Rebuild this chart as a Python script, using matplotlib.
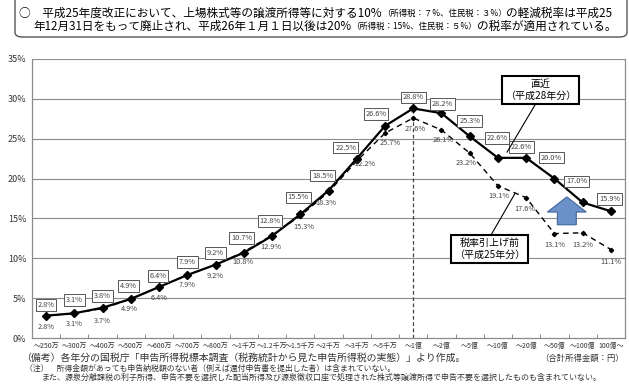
import numpy as np
import matplotlib
matplotlib.use("Agg")
import matplotlib.pyplot as plt
from matplotlib.patches import FancyBboxPatch, FancyArrow

plt.rcParams['font.family'] = ['Noto Sans CJK JP', 'DejaVu Sans']

# データ（合計所得金額階級別の所得税負担率）
categories = ["～250万", "～300万", "～400万", "～500万", "～600万", "～700万", "～800万",
              "～1千万", "～1.2千万", "～1.5千万", "～2千万", "～3千万", "～5千万", "～1億",
              "～2億", "～5億", "～10億", "～20億", "～50億", "～100億", "100億～"]
rate_h28 = [2.8, 3.1, 3.8, 4.9, 6.4, 7.9, 9.2, 10.7, 12.8, 15.5, 18.5, 22.5, 26.6, 28.8,
            28.2, 25.3, 22.6, 22.6, 20.0, 17.0, 15.9]
rate_h25 = [2.8, 3.1, 3.7, 4.9, 6.4, 7.9, 9.2, 10.8, 12.9, 15.3, 18.3, 22.2, 25.7, 27.6,
            26.1, 23.2, 19.1, 17.6, 13.1, 13.2, 11.1]
yticks = [0, 5, 10, 15, 20, 25, 30, 35]

# ラベル位置の微調整（ピクセル）
off_h28 = [(0, 11), (0, 13), (0, 12), (-2, 13), (-1, 11), (0, 13), (0, 12), (-2, 15),
           (-2, 15), (-2, 17), (-6, 15), (-11, 11), (-9, 12), (0, 11), (1, 9), (0, 15),
           (-1, 20), (-5, 11), (-3, 21), (-6, 21), (-1, 12)]
off_h25 = [(0, -11), (0, -11), (0, -12), (-1, -10), (0, -11), (0, -10), (0, -11), (-1, -10),
           (-1, -12), (4, -11), (-3, -11), (8, -3), (5, -10), (2, -11), (2, -10), (-4, -10),
           (1, -10), (-1, -11), (0, -11), (0, -12), (0, -12)]

W, H = 629, 389
fig = plt.figure(figsize=(W / 100, H / 100), dpi=100)
ax = fig.add_axes([32 / W, 1 - 338 / H, (625 - 32) / W, (338 - 59) / H])

x = np.arange(len(categories))
ax.set_xlim(-0.5, len(categories) - 0.5)
ax.set_ylim(0, 35)

for y in yticks[1:]:
    ax.axhline(y, color='#8c8c8c', lw=0.8, zorder=0)
ax.vlines(13, 0, rate_h28[13], colors='#444444', linestyles=(0, (3, 2)), lw=0.9, zorder=1)

ax.plot(x, rate_h25, color='black', lw=1.0, ls=(0, (4, 3)), marker='D', ms=2.2, zorder=3)
ax.plot(x, rate_h28, color='black', lw=1.6, marker='D', ms=3.6, zorder=4)

for i in range(len(x)):
    ax.annotate(f"{rate_h28[i]:.1f}%", (x[i], rate_h28[i]), xytext=off_h28[i],
                textcoords='offset pixels', ha='center', va='center', fontsize=5.3,
                color='#444444', zorder=6,
                bbox=dict(boxstyle='square,pad=0.25', fc='white', ec='#555555', lw=0.7))
    ax.annotate(f"{rate_h25[i]:.1f}%", (x[i], rate_h25[i]), xytext=off_h25[i],
                textcoords='offset pixels', ha='center', va='center', fontsize=5.3,
                color='#444444', zorder=5)

# 吹き出し
ax.annotate("直近\n（平成28年分）", xy=(16.32, 23.3), xytext=(17.52, 31.1),
            ha='center', va='center', fontsize=7.2, linespacing=1.25, zorder=7,
            bbox=dict(boxstyle='square,pad=0.3', fc='white', ec='black', lw=1.5),
            arrowprops=dict(arrowstyle='-', lw=0.8, color='black', shrinkA=0, shrinkB=0,
                            relpos=(0.45, 0)))
ax.annotate("税率引上げ前\n（平成25年分）", xy=(16.6, 18.1), xytext=(15.7, 11.2),
            ha='center', va='center', fontsize=7.2, linespacing=1.25, zorder=7,
            bbox=dict(boxstyle='square,pad=0.3', fc='white', ec='black', lw=1.5),
            arrowprops=dict(arrowstyle='-', lw=0.8, color='black', shrinkA=0, shrinkB=0,
                            relpos=(0.5, 1)))

ax.add_patch(FancyArrow(18.44, 14.2, 0, 3.5, width=0.67, head_width=1.38, head_length=1.9,
                        length_includes_head=True, fc='#6a92c8', ec='#44679c', lw=0.8, zorder=6))

ax.set_yticks(yticks)
ax.set_yticklabels([f"{v}%" for v in yticks], fontsize=6.5, color='#333333')
ax.set_xticks(x)
ax.set_xticklabels(categories, fontsize=5, color='#333333')
ax.tick_params(axis='x', length=0, pad=3)
ax.tick_params(axis='y', length=0, pad=4)
ax.set_xticks(np.arange(-0.5, len(categories)), minor=True)
ax.tick_params(axis='x', which='minor', length=3, direction='in', color='#777777')
for s in ['left', 'bottom', 'right']:
    ax.spines[s].set_color('#8c8c8c')
    ax.spines[s].set_linewidth(0.9)
ax.spines['top'].set_visible(False)

renderer = fig.canvas.get_renderer()


def draw_line(parts, x0, x1, y, size, color='black'):
    # 文字列を連結して x0〜x1 に収まるように描く
    def place(sz):
        out, cx = [], x0
        for txt, r in parts:
            t = fig.text(cx / W, 1 - y / H, txt, fontsize=sz * r, color=color,
                         ha='left', va='center')
            cx += t.get_window_extent(renderer).width
            out.append(t)
        return out, cx
    texts, end = place(size)
    scale = (x1 - x0) / (end - x0)
    for t in texts:
        t.remove()
    place(size * scale)


# 上部の説明枠
fig.patches.append(FancyBboxPatch((15 / W, 1 - 37 / H), (627 - 15) / W, 60 / H,
                                  boxstyle='round,pad=0,rounding_size=0.012',
                                  transform=fig.transFigure, fc='none', ec='#555555',
                                  lw=1.0, clip_on=False))
draw_line([("○　平成25年度改正において、上場株式等の譲渡所得等に対する10%", 1.0),
           ("（所得税：７%、住民税：３%）", 0.72), ("の軽減税率は平成25", 1.0)],
          19, 612, 13, 8.6)
draw_line([("年12月31日をもって廃止され、平成26年１月１日以後は20%", 1.0),
           ("（所得税：15%、住民税：５%）", 0.72), ("の税率が適用されている。", 1.0)],
          33, 615, 26, 8.6)

# 注記
draw_line([("（備考）各年分の国税庁「申告所得税標本調査（税務統計から見た申告所得税の実態）」より作成。", 1.0)],
          21, 468, 358, 6.0, '#333333')
draw_line([("（注）　所得金額があっても申告納税額のない者（例えば還付申告書を提出した者）は含まれていない。", 1.0)],
          25, 397, 368, 6.0, '#333333')
draw_line([("また、源泉分離課税の利子所得、申告不要を選択した配当所得及び源泉徴収口座で処理された株式等譲渡所得で申告不要を選択したものも含まれていない。", 1.0)],
          42, 602, 377, 6.0, '#333333')
fig.text(540 / W, 1 - 358 / H, "（合計所得金額：円）", fontsize=6.0, color='#333333',
         ha='left', va='center')

fig.savefig("out.png", dpi=100)
